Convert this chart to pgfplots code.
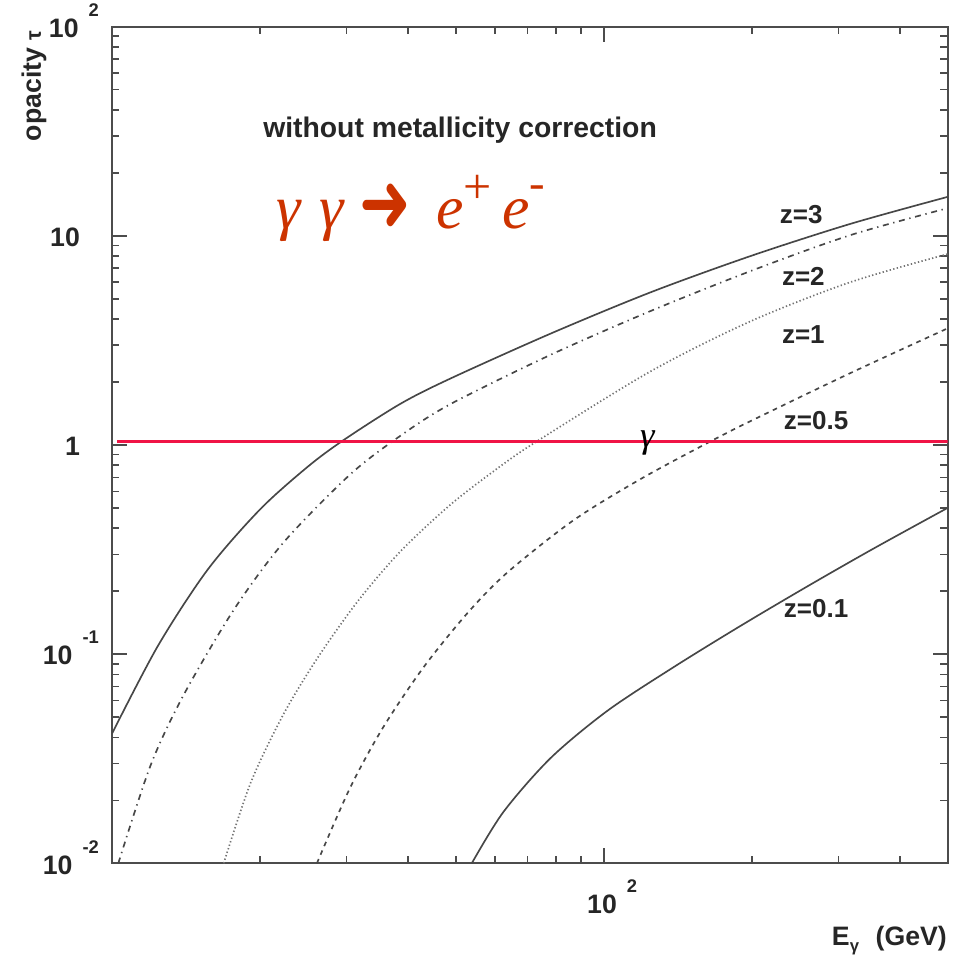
\documentclass[border=0pt]{standalone}
\usepackage{pgfplots}
\pgfplotsset{compat=1.18}
\usepackage{pgfplotstable}
\usepackage{fontspec}
\setmainfont{Liberation Sans}
\newfontfamily\tnr{Liberation Serif}
\newfontfamily\dejavu{DejaVu Sans}
\definecolor{curve}{gray}{0.28}
\definecolor{curvelight}{gray}{0.45}
\definecolor{formred}{RGB}{204,51,0}
\definecolor{redline}{RGB}{240,20,70}
\definecolor{axisgray}{gray}{0.3}
\newcommand\expo[1]{\kern3pt\raisebox{6.3pt}{\fontsize{5.5}{5.5}\selectfont #1}}

\pgfplotstableread{
E tau
10 0.0417
12.4 0.1096
15.65 0.2535
20.0 0.492
25.0 0.787
29.6 1.057
38.6 1.574
48.8 2.08
78.0 3.41
124.5 5.37
198.7 8.0
317 11.4
500 15.35
}\zthree
\pgfplotstableread{
E tau
10.3 0.0100
11.98 0.0294
13.98 0.0637
17.66 0.162
22.3 0.341
30.5 0.723
38.6 1.107
48.8 1.57
78.0 2.70
124.5 4.37
198.7 6.78
317 10.07
500 13.55
}\ztwo
\pgfplotstableread{
E tau
16.87 0.0100
19.16 0.0244
22.34 0.0518
26.2 0.0962
31.6 0.179
38.6 0.310
48.8 0.519
61.6 0.791
73.3 1.045
124.5 2.25
198.7 3.90
317 6.0
500 8.18
}\zone
\pgfplotstableread{
E tau
26.1 0.0100
30.5 0.0230
35.6 0.0447
43.0 0.0865
52.8 0.157
63.7 0.246
86.7 0.436
118.6 0.686
162.2 1.02
198.7 1.30
317 2.205
500 3.61
}\zhalf
\pgfplotstableread{
E tau
53.9 0.0100
62.5 0.0176
78.0 0.0319
101.8 0.0537
138.7 0.0867
189.7 0.1365
259.5 0.211
353 0.319
500 0.50
}\ztenth

\begin{document}
\begin{tikzpicture}
\path[use as bounding box] (-33.6pt,-27.5pt) rectangle (253.2pt,259pt);
\begin{axis}[
  at={(0,0)}, anchor=south west,
  scale only axis, width=250.65pt, height=251pt,
  xmode=log, ymode=log,
  xmin=10, xmax=500, ymin=0.01, ymax=100,
  xtick={100}, xticklabels={10\expo{2}},
  minor xtick={20,30,40,50,60,70,80,90,200,300,400},
  ytick={0.01,0.1,1,10,100},
  yticklabels={10\expo{-2},10\expo{-1},1\kern5.7pt,10\kern5.7pt,10\expo{2}},
  minor ytick={0.02,0.03,0.04,0.05,0.06,0.07,0.08,0.09,0.2,0.3,0.4,0.5,0.6,0.7,0.8,0.9,2,3,4,5,6,7,8,9,20,30,40,50,60,70,80,90},
  tick align=inside,
  major tick length=4.5pt, minor tick length=2.25pt,
  axis line style={axisgray, line width=0.6pt},
  every tick/.style={axisgray, line width=0.5pt},
  tick label style={font=\fontsize{8}{8}\selectfont\bfseries, text=black!85},
  xticklabel style={anchor=base, inner sep=0pt, yshift=-15pt, xshift=2.5pt},
  yticklabel style={anchor=base east, inner sep=0pt, xshift=-3.75pt, yshift=-3.2pt},
]
\addplot[curve, line width=0.5pt, smooth] table[x=E, y=tau] {\zthree};
\addplot[curve, line width=0.5pt, smooth, dash pattern=on 1.8pt off 1.4pt on 0.4pt off 1.4pt] table[x=E, y=tau] {\ztwo};
\addplot[curvelight, line width=0.5pt, smooth, dash pattern=on 0.4pt off 0.7pt] table[x=E, y=tau] {\zone};
\addplot[curve, line width=0.5pt, smooth, dash pattern=on 1.4pt off 1.4pt] table[x=E, y=tau] {\zhalf};
\addplot[curve, line width=0.5pt, smooth] table[x=E, y=tau] {\ztenth};
\addplot[redline, line width=0.9pt] coordinates {(10.26,1.045) (500,1.045)};

\node[anchor=base west, inner sep=0pt, font=\fontsize{8.5}{8.5}\selectfont\bfseries, text=black!85] at (axis cs:20.24,29.66) {without metallicity correction};
\node[anchor=base west, inner sep=0pt, font=\fontsize{7.8}{7.8}\selectfont\bfseries, text=black!85] at (axis cs:227.5,11.5) {z=3};
\node[anchor=base west, inner sep=0pt, font=\fontsize{7.8}{7.8}\selectfont\bfseries, text=black!85] at (axis cs:229.7,5.82) {z=2};
\node[anchor=base west, inner sep=0pt, font=\fontsize{7.8}{7.8}\selectfont\bfseries, text=black!85] at (axis cs:229.7,3.07) {z=1};
\node[anchor=base west, inner sep=0pt, font=\fontsize{7.8}{7.8}\selectfont\bfseries, text=black!85] at (axis cs:231.8,1.18) {z=0.5};
\node[anchor=base west, inner sep=0pt, font=\fontsize{7.8}{7.8}\selectfont\bfseries, text=black!85] at (axis cs:231.8,0.149) {z=0.1};
\node[anchor=base west, inner sep=0pt, text=formred] at (axis cs:21.51,10.9)
  {\fontsize{18.5}{18.5}\selectfont\tnr\itshape γ\hspace{5.7pt}γ\hspace{4.7pt}\raisebox{-1pt}{\dejavu\upshape\scalebox{1.0}[1.35]{➜}}\hspace{7.6pt}e\raisebox{7.5pt}{\fontsize{15}{15}\selectfont\upshape +}\hspace{3pt}e\raisebox{9pt}{\fontsize{14}{14}\selectfont\upshape -}};
\node[inner sep=0pt, font=\fontsize{11}{11}\selectfont\tnr\itshape] at (axis cs:122.7,1.022) {γ};
\coordinate (TL) at (rel axis cs:0,1);
\coordinate (BR) at (rel axis cs:1,0);
\end{axis}
\node[rotate=90, anchor=base east, inner sep=0pt, font=\fontsize{8}{8}\selectfont\bfseries, text=black!85] at ([xshift=-21.3pt,yshift=-1pt]TL) {opacity {\fontsize{6.5}{6.5}\selectfont τ}};
\node[anchor=base east, inner sep=0pt, font=\fontsize{8}{8}\selectfont\bfseries, text=black!85] at ([yshift=-24.6pt]BR) {E\raisebox{-2pt}{\fontsize{5}{5}\selectfont γ}\kern5pt(GeV)};
\end{tikzpicture}
\end{document}
